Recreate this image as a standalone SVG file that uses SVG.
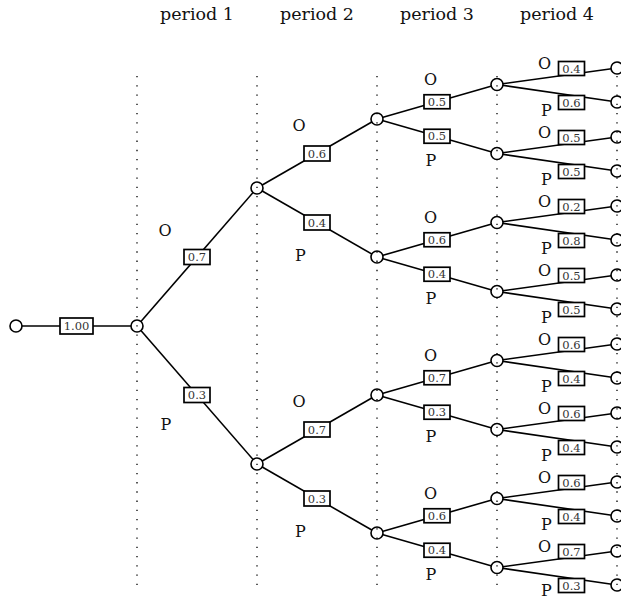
<svg xmlns="http://www.w3.org/2000/svg" width="621" height="600" viewBox="0 0 621 600">
<style>
.e{stroke:#000;stroke-width:1.6;fill:none}
.dv{stroke:#000;stroke-width:1.3;stroke-dasharray:1.3 7.93;fill:none}
.n{fill:#fff;stroke:#000;stroke-width:1.6}
.b{fill:#fff;stroke:#000;stroke-width:1.7}
.p{font-family:"DejaVu Serif",serif;font-size:11.5px;fill:#333;text-anchor:middle}
.l{font-family:"DejaVu Serif",serif;font-size:16px;fill:#111;text-anchor:middle}
.h{font-family:"DejaVu Serif",serif;font-size:17.5px;fill:#111;text-anchor:middle}
</style>
<rect width="621" height="600" fill="#fff"/>
<g id="headers">
<text class="h" x="197" y="20">period 1</text>
<text class="h" x="317" y="20">period 2</text>
<text class="h" x="437" y="20">period 3</text>
<text class="h" x="557" y="20">period 4</text>
</g>
<g id="connectors">
<line class="e" x1="16" y1="326" x2="137" y2="326"/>
<line class="e" x1="137" y1="326" x2="257" y2="188"/>
<line class="e" x1="137" y1="326" x2="257" y2="464"/>
<line class="e" x1="257" y1="188" x2="377" y2="119"/>
<line class="e" x1="257" y1="188" x2="377" y2="257"/>
<line class="e" x1="257" y1="464" x2="377" y2="395"/>
<line class="e" x1="257" y1="464" x2="377" y2="533"/>
<line class="e" x1="377" y1="119" x2="497" y2="84.5"/>
<line class="e" x1="377" y1="119" x2="497" y2="153.5"/>
<line class="e" x1="377" y1="257" x2="497" y2="222.5"/>
<line class="e" x1="377" y1="257" x2="497" y2="291.5"/>
<line class="e" x1="377" y1="395" x2="497" y2="360.5"/>
<line class="e" x1="377" y1="395" x2="497" y2="429.5"/>
<line class="e" x1="377" y1="533" x2="497" y2="498.5"/>
<line class="e" x1="377" y1="533" x2="497" y2="567.5"/>
<line class="e" x1="497" y1="84.5" x2="617" y2="68"/>
<line class="e" x1="497" y1="84.5" x2="617" y2="102"/>
<line class="e" x1="497" y1="153.5" x2="617" y2="137"/>
<line class="e" x1="497" y1="153.5" x2="617" y2="171"/>
<line class="e" x1="497" y1="222.5" x2="617" y2="206"/>
<line class="e" x1="497" y1="222.5" x2="617" y2="240"/>
<line class="e" x1="497" y1="291.5" x2="617" y2="275"/>
<line class="e" x1="497" y1="291.5" x2="617" y2="309"/>
<line class="e" x1="497" y1="360.5" x2="617" y2="344"/>
<line class="e" x1="497" y1="360.5" x2="617" y2="378"/>
<line class="e" x1="497" y1="429.5" x2="617" y2="413"/>
<line class="e" x1="497" y1="429.5" x2="617" y2="447"/>
<line class="e" x1="497" y1="498.5" x2="617" y2="482"/>
<line class="e" x1="497" y1="498.5" x2="617" y2="516"/>
<line class="e" x1="497" y1="567.5" x2="617" y2="551"/>
<line class="e" x1="497" y1="567.5" x2="617" y2="585"/>
</g>
<g id="edge-labels">
<rect class="b" x="60" y="318" width="33" height="16"/><text class="p" x="76.5" y="330">1.00</text>
<rect class="b" x="184" y="249.5" width="26" height="15"/><text class="p" x="197" y="261">0.7</text>
<rect class="b" x="184" y="387.5" width="26" height="15"/><text class="p" x="197" y="399">0.3</text>
<text class="l" x="165" y="236">O</text>
<text class="l" x="166" y="430">P</text>
<rect class="b" x="304" y="146" width="26" height="15"/><text class="p" x="317" y="157.5">0.6</text>
<rect class="b" x="304" y="215" width="26" height="15"/><text class="p" x="317" y="226.5">0.4</text>
<rect class="b" x="304" y="422" width="26" height="15"/><text class="p" x="317" y="433.5">0.7</text>
<rect class="b" x="304" y="491" width="26" height="15"/><text class="p" x="317" y="502.5">0.3</text>
<text class="l" x="299" y="130.5">O</text>
<text class="l" x="300.5" y="260.5">P</text>
<text class="l" x="299" y="406.5">O</text>
<text class="l" x="300.5" y="536.5">P</text>
<rect class="b" x="424" y="94.75" width="26" height="14"/><text class="p" x="437" y="105.75">0.5</text>
<rect class="b" x="424" y="129.25" width="26" height="14"/><text class="p" x="437" y="140.25">0.5</text>
<rect class="b" x="424" y="232.75" width="26" height="14"/><text class="p" x="437" y="243.75">0.6</text>
<rect class="b" x="424" y="267.25" width="26" height="14"/><text class="p" x="437" y="278.25">0.4</text>
<rect class="b" x="424" y="370.75" width="26" height="14"/><text class="p" x="437" y="381.75">0.7</text>
<rect class="b" x="424" y="405.25" width="26" height="14"/><text class="p" x="437" y="416.25">0.3</text>
<rect class="b" x="424" y="508.75" width="26" height="14"/><text class="p" x="437" y="519.75">0.6</text>
<rect class="b" x="424" y="543.25" width="26" height="14"/><text class="p" x="437" y="554.25">0.4</text>
<text class="l" x="430.5" y="85.25">O</text>
<text class="l" x="431" y="165.75">P</text>
<text class="l" x="430.5" y="223.25">O</text>
<text class="l" x="431" y="303.75">P</text>
<text class="l" x="430.5" y="361.25">O</text>
<text class="l" x="431" y="441.75">P</text>
<text class="l" x="430.5" y="499.25">O</text>
<text class="l" x="431" y="579.75">P</text>
<rect class="b" x="558.5" y="61.5" width="26" height="14"/><text class="p" x="571.5" y="72.5">0.4</text>
<rect class="b" x="558.5" y="95.5" width="26" height="14"/><text class="p" x="571.5" y="106.5">0.6</text>
<rect class="b" x="558.5" y="130.5" width="26" height="14"/><text class="p" x="571.5" y="141.5">0.5</text>
<rect class="b" x="558.5" y="164.5" width="26" height="14"/><text class="p" x="571.5" y="175.5">0.5</text>
<rect class="b" x="558.5" y="199.5" width="26" height="14"/><text class="p" x="571.5" y="210.5">0.2</text>
<rect class="b" x="558.5" y="233.5" width="26" height="14"/><text class="p" x="571.5" y="244.5">0.8</text>
<rect class="b" x="558.5" y="268.5" width="26" height="14"/><text class="p" x="571.5" y="279.5">0.5</text>
<rect class="b" x="558.5" y="302.5" width="26" height="14"/><text class="p" x="571.5" y="313.5">0.5</text>
<rect class="b" x="558.5" y="337.5" width="26" height="14"/><text class="p" x="571.5" y="348.5">0.6</text>
<rect class="b" x="558.5" y="371.5" width="26" height="14"/><text class="p" x="571.5" y="382.5">0.4</text>
<rect class="b" x="558.5" y="406.5" width="26" height="14"/><text class="p" x="571.5" y="417.5">0.6</text>
<rect class="b" x="558.5" y="440.5" width="26" height="14"/><text class="p" x="571.5" y="451.5">0.4</text>
<rect class="b" x="558.5" y="475.5" width="26" height="14"/><text class="p" x="571.5" y="486.5">0.6</text>
<rect class="b" x="558.5" y="509.5" width="26" height="14"/><text class="p" x="571.5" y="520.5">0.4</text>
<rect class="b" x="558.5" y="544.5" width="26" height="14"/><text class="p" x="571.5" y="555.5">0.7</text>
<rect class="b" x="558.5" y="578.5" width="26" height="14"/><text class="p" x="571.5" y="589.5">0.3</text>
<text class="l" x="544.5" y="68.5">O</text>
<text class="l" x="546.5" y="115.5">P</text>
<text class="l" x="544.5" y="137.5">O</text>
<text class="l" x="546.5" y="184.5">P</text>
<text class="l" x="544.5" y="206.5">O</text>
<text class="l" x="546.5" y="253.5">P</text>
<text class="l" x="544.5" y="275.5">O</text>
<text class="l" x="546.5" y="322.5">P</text>
<text class="l" x="544.5" y="344.5">O</text>
<text class="l" x="546.5" y="391.5">P</text>
<text class="l" x="544.5" y="413.5">O</text>
<text class="l" x="546.5" y="460.5">P</text>
<text class="l" x="544.5" y="482.5">O</text>
<text class="l" x="546.5" y="529.5">P</text>
<text class="l" x="544.5" y="551.5">O</text>
<text class="l" x="546.5" y="596">P</text>
</g>
<g id="nodes">
<g id="root"><circle class="n" cx="16" cy="326" r="6"/></g>
<g id="n0"><circle class="n" cx="137" cy="326" r="6"/></g>
<g id="nA"><circle class="n" cx="257" cy="188" r="6"/></g>
<g id="nB"><circle class="n" cx="257" cy="464" r="6"/></g>
<g id="nAA"><circle class="n" cx="377" cy="119" r="6"/></g>
<g id="nAB"><circle class="n" cx="377" cy="257" r="6"/></g>
<g id="nBA"><circle class="n" cx="377" cy="395" r="6"/></g>
<g id="nBB"><circle class="n" cx="377" cy="533" r="6"/></g>
<g id="nAAA"><circle class="n" cx="497" cy="84.5" r="6"/></g>
<g id="nAAB"><circle class="n" cx="497" cy="153.5" r="6"/></g>
<g id="nABA"><circle class="n" cx="497" cy="222.5" r="6"/></g>
<g id="nABB"><circle class="n" cx="497" cy="291.5" r="6"/></g>
<g id="nBAA"><circle class="n" cx="497" cy="360.5" r="6"/></g>
<g id="nBAB"><circle class="n" cx="497" cy="429.5" r="6"/></g>
<g id="nBBA"><circle class="n" cx="497" cy="498.5" r="6"/></g>
<g id="nBBB"><circle class="n" cx="497" cy="567.5" r="6"/></g>
<g id="leaf1"><circle class="n" cx="617" cy="68" r="6"/></g>
<g id="leaf2"><circle class="n" cx="617" cy="102" r="6"/></g>
<g id="leaf3"><circle class="n" cx="617" cy="137" r="6"/></g>
<g id="leaf4"><circle class="n" cx="617" cy="171" r="6"/></g>
<g id="leaf5"><circle class="n" cx="617" cy="206" r="6"/></g>
<g id="leaf6"><circle class="n" cx="617" cy="240" r="6"/></g>
<g id="leaf7"><circle class="n" cx="617" cy="275" r="6"/></g>
<g id="leaf8"><circle class="n" cx="617" cy="309" r="6"/></g>
<g id="leaf9"><circle class="n" cx="617" cy="344" r="6"/></g>
<g id="leaf10"><circle class="n" cx="617" cy="378" r="6"/></g>
<g id="leaf11"><circle class="n" cx="617" cy="413" r="6"/></g>
<g id="leaf12"><circle class="n" cx="617" cy="447" r="6"/></g>
<g id="leaf13"><circle class="n" cx="617" cy="482" r="6"/></g>
<g id="leaf14"><circle class="n" cx="617" cy="516" r="6"/></g>
<g id="leaf15"><circle class="n" cx="617" cy="551" r="6"/></g>
<g id="leaf16"><circle class="n" cx="617" cy="585" r="6"/></g>
</g>
<g id="period-lines">
<line class="dv" x1="137" y1="76" x2="137" y2="588"/>
<line class="dv" x1="257" y1="76" x2="257" y2="588"/>
<line class="dv" x1="377" y1="76" x2="377" y2="588"/>
<line class="dv" x1="497" y1="76" x2="497" y2="588"/>
<line class="dv" x1="617" y1="76" x2="617" y2="588"/>
</g>
</svg>
